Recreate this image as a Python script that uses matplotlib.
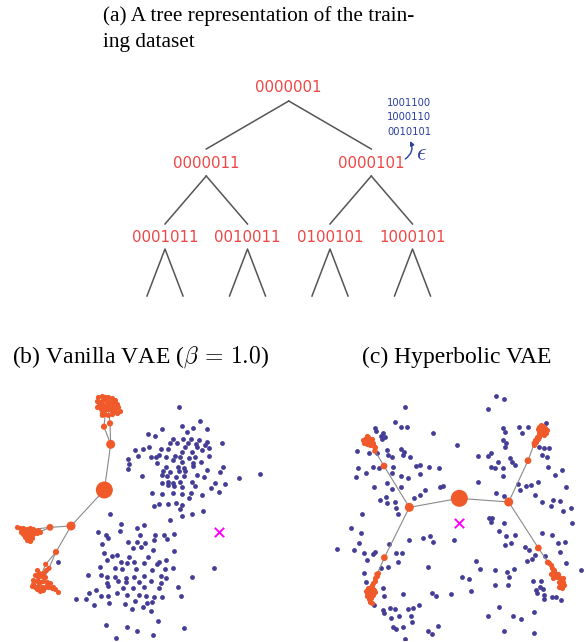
import numpy as np
import matplotlib
matplotlib.use('Agg')
import matplotlib.pyplot as plt

plt.rcParams['mathtext.fontset'] = 'cm'

# ---- (a) tree of binary codes ----
tree_levels = [['0000001'],
               ['0000011', '0000101'],
               ['0001011', '0010011', '0100101', '1000101']]
eps_codes = ['1001100', '1000110', '0010101']

# ---- (b) vanilla VAE latent points ----
b_blue = [(537,202),(600,243),(547,258),(579,265),(622,267),(485,267),(560,275),(444,282),(465,288),
  (519,298),(548,298),(573,296),(596,300),(622,305),(509,308),(530,310),(563,310),(587,312),(614,315),
  (667,308),(447,322),(428,328),(405,330),(483,327),(503,327),(556,322),(590,322),(547,335),(575,335),
  (606,330),(627,325),(413,348),(453,350),(477,345),(497,352),(525,348),(541,350),(568,355),(585,350),
  (627,348),(384,358),(467,352),(519,360),(545,365),(578,370),(604,365),(388,372),(471,370),(497,380),
  (533,380),(551,385),(580,378),(668,382),(383,388),(490,392),(510,395),(537,393),(556,393),(621,390),
  (661,395),(427,407),(485,405),(500,408),(529,410),(553,408),(590,405),(613,410),(716,414),(780,402),
  (504,425),(519,430),(541,425),(575,425),(645,428),(674,432),(485,428),(503,436),(523,438),(546,440),
  (586,438),(633,445),(657,455),(456,460),(486,462),(520,458),(546,462),(572,458),(606,466),(568,475),
  (476,492),(463,497),(503,492),(528,490),(547,495),(541,508),(509,540),(576,522),(608,514),(545,527),
  (331,522),
  (363,553),(431,556),(412,565),(359,572),(293,577),(318,585),(324,593),(421,585),(466,584),(493,585),
  (523,583),(463,600),(502,598),(385,605),(411,606),(436,608),(305,612),(400,625),(424,622),(459,630),
  (523,633),(311,640),(350,645),(335,648),(388,650),(445,650),(476,665),(497,660),(322,660),(362,665),
  (381,670),(402,665),(433,668),(471,672),(301,682),(346,685),(367,688),(409,688),(455,690),(494,688),
  (519,685),(641,685),(263,706),(302,706),(320,712),(344,712),(379,715),(402,712),(432,708),(483,708),
  (497,715),(576,712),(322,728),(353,722),(378,727),(418,727),(452,724),(482,730),(325,738),(370,744),
  (399,745),(433,740),(476,745),(534,740),(289,749),(268,760),(303,768),(323,767),(352,760),(382,765),
  (417,765),(437,768),(462,770),(485,772),(543,768),(228,776),(258,776),(283,795),(327,790),(375,792),
  (404,784),(442,788),(457,785),(395,808),(428,802),(454,812),(475,842),(319,856),(381,862),(410,873),
  (459,884),(552,863),(347,893),(173,666)]
b_leaves = [(295,170),(305,168),(315,172),(325,170),(335,175),(345,180),(292,182),(300,185),(310,180),
  (320,183),(330,185),(340,188),(350,192),(355,200),(298,195),(308,195),(318,195),(328,198),(338,200),
  (348,205),(360,212),(302,208),(312,206),(322,208),(332,210),(342,214),(305,218),(315,222),(325,225),
  (335,222),(350,218),(290,200),
  (52,562),(60,565),(70,563),(80,568),(90,565),(100,568),(65,572),(75,575),(85,575),(95,575),(105,572),
  (115,570),(70,582),(80,585),(90,585),(100,582),(110,580),(75,592),(85,595),(95,593),(80,600),(90,603),
  (120,575),(62,577),
  (110,690),(118,700),(105,705),(115,712),(125,708),(135,712),(100,720),(110,722),(120,725),(130,722),
  (140,725),(150,730),(95,738),(105,740),(115,738),(125,742),(135,740),(145,742),(155,745),(165,748),
  (175,755),(110,748),(120,752),(130,750),(100,732),(140,735),(160,742),(128,698),(138,690)]
b_nodes = [(313,450),(332,313),(312,260),(330,250),(307,226),(213,558),(150,562),(168,636),(147,685),(137,673)]
b_node_size = [150, 42, 20, 20, 14, 42, 24, 20, 14, 14]
b_edges = [((313,450),(332,313)),((332,313),(312,260)),((332,313),(330,250)),((312,260),(318,200)),
  ((330,250),(325,205)),((313,450),(213,558)),((213,558),(150,562)),((150,562),(100,568)),
  ((150,562),(110,580)),((213,558),(168,636)),((168,636),(147,685)),((168,636),(137,673)),
  ((147,685),(125,730)),((137,673),(115,725))]
b_root = (658,575)

# ---- (c) hyperbolic VAE latent points ----
c_blue = [(600,167),(623,178),(575,208),(328,200),(296,245),(315,260),(332,262),(238,265),(240,272),
  (262,278),(254,288),(268,290),(258,298),(412,280),(668,260),(697,260),(751,250),(620,265),(627,275),
  (677,278),(622,300),(630,308),(628,320),(483,315),(226,310),(183,334),(220,338),(243,340),(272,330),
  (277,345),(315,328),(325,335),(322,345),(341,352),(288,350),(745,325),(730,322),(760,323),(738,345),
  (753,352),(585,340),(577,348),(547,347),(643,353),(648,365),(658,375),(606,365),(250,385),(231,380),
  (185,385),(210,400),(181,410),(292,382),(360,378),(373,375),(398,380),(428,385),(372,402),(289,398),
  (314,407),(337,415),(586,380),(598,385),(621,385),(756,382),(798,389),(778,405),(272,430),(315,440),
  (288,447),(233,442),(387,449),(432,441),(440,437),(545,427),(620,408),(665,432),(690,438),(705,435),
  (725,425),(673,450),(810,440),(716,465),(770,480),(765,497),(738,487),(792,482),(270,470),(274,488),
  (297,485),(300,505),(252,480),(355,475),(372,465),(307,523),(600,458),(624,468),(800,512),(825,505),
  (579,533),(588,533),(584,545),(624,548),(828,550),(198,522),(164,565),(196,580),(122,628),(175,630),
  (190,608),(237,637),(231,641),(204,640),(213,660),(280,612),(300,640),(318,640),(340,600),(380,594),
  (403,588),(410,606),(475,600),(610,572),(629,588),(658,585),(628,614),(645,608),(737,580),(768,585),
  (785,610),(807,605),(687,622),(700,630),(792,635),(718,645),(747,648),(693,662),(708,658),(810,668),
  (855,690),(277,680),(255,685),(305,665),(395,682),(539,664),(552,688),(596,690),(634,697),(653,687),
  (639,710),(712,724),(735,722),(732,740),(740,746),(720,750),(723,760),(745,765),(769,772),(780,770),
  (795,780),(744,778),(498,710),(518,716),(525,752),(466,762),(635,735),(598,735),(210,727),(204,700),
  (262,743),(265,768),(320,762),(408,758),(420,768),(233,795),(260,810),(283,805),(297,807),(265,818),
  (352,803),(335,806),(368,795),(309,827),(286,835),(345,828),(347,845),(322,861),(292,862),(300,866),
  (328,898),(396,872),(408,882),(425,858),(577,828),(609,800),(650,828),(676,836),(713,815),(625,872),
  (714,880)]
c_leaves = [(200,300),(207,296),(215,292),(222,296),(210,305),(218,303),(226,305),(232,308),(205,310),
  (214,312),(222,314),(230,316),(236,320),(212,288),(220,300),(228,298),
  (245,700),(242,708),(238,715),(236,722),(232,730),(228,735),(225,740),(215,745),(222,746),(230,746),
  (210,752),(218,752),(226,752),(234,750),(212,760),(220,760),(228,758),(236,756),(214,768),(222,768),
  (230,765),(218,776),(226,775),(222,785),(228,790),
  (735,255),(742,258),(730,262),(738,265),(746,265),(752,270),(725,268),(733,272),(741,274),(749,278),
  (728,280),(736,282),(744,285),(722,290),(730,292),(718,300),(725,298),(716,308),(713,315),(720,305),
  (752,665),(758,670),(764,676),(768,685),(775,690),(770,697),(778,700),(786,702),(765,703),(773,707),
  (782,710),(790,712),(800,715),(795,722),(788,727),(796,730),(792,738),(798,745),(790,742),(802,725),
  (772,715),(804,735)]
c_nodes = [(490,475),(340,502),(638,486),(264,378),(237,333),(265,653),(243,703),(696,362),(715,310),
  (727,624),(756,667)]
c_node_size = [150, 42, 42, 24, 16, 24, 16, 24, 16, 24, 16]
c_edges = [((490,475),(340,502)),((490,475),(638,486)),((340,502),(264,378)),((264,378),(237,333)),
  ((237,333),(215,300)),((340,502),(265,653)),((265,653),(243,703)),((243,703),(225,760)),
  ((638,486),(696,362)),((696,362),(715,310)),((715,310),(737,270)),((638,486),(727,624)),
  ((727,624),(756,667)),((756,667),(785,715))]
c_root = (490,548)

BLUE = '#433d96'
ORANGE = '#f05a2a'
RED = '#ef4646'
NAVY = '#2b3f9e'

fig = plt.figure(figsize=(5.86, 6.42), dpi=100)

# whole-figure axes in pixel units for the tree and the captions
ax = fig.add_axes([0, 0, 1, 1])
ax.set_xlim(0, 586)
ax.set_ylim(642, 0)
ax.axis('off')

serif = 'Liberation Serif'
ax.text(103, 16, '(a) A tree representation of the train-', family=serif, fontsize=15.3, va='center', ha='left')
ax.text(103, 42, 'ing dataset', family=serif, fontsize=15.3, va='center', ha='left')
ax.text(12, 357, r'(b) Vanilla VAE ($\beta\,=\,1.0$)', family=serif, fontsize=17, va='center', ha='left')
ax.text(362, 357, '(c) Hyperbolic VAE', family=serif, fontsize=17, va='center', ha='left')

# tree layout: leaves evenly spaced, parents centred over their children
level_y = [88, 163, 238]
leaf_x0, leaf_dx = 165, 82.5
xs = [[leaf_x0 + i * leaf_dx for i in range(len(tree_levels[2]))]]
for lvl in (1, 0):
  prev = xs[0]
  xs.insert(0, [(prev[2 * i] + prev[2 * i + 1]) / 2 for i in range(len(tree_levels[lvl]))])
lc = '#555555'
for lvl, labels in enumerate(tree_levels):
  for i, lab in enumerate(labels):
    x, y = xs[lvl][i], level_y[lvl]
    ax.text(x, y, lab, color=RED, fontsize=10.8, ha='center', va='center', family='DejaVu Sans')
    if lvl + 1 < len(tree_levels):
      for c in (2 * i, 2 * i + 1):
        ax.plot([x, xs[lvl + 1][c]], [y + 13, level_y[lvl + 1] - 14], color=lc, lw=1.1)
    else:
      ax.plot([x - 18, x, x + 18], [y + 58, y + 11, y + 58], color=lc, lw=1.1)

# epsilon-perturbed codes next to a node
ex, ey = xs[1][1], level_y[1]
for k, code in enumerate(eps_codes):
  ax.text(ex + 38, 103 + 14.5 * k, code, color=NAVY, fontsize=7.2, ha='center', va='center', family='DejaVu Sans')
ax.text(ex + 50, ey - 10, r'$\epsilon$', color=NAVY, fontsize=17, ha='center', va='center')
ax.annotate('', xy=(ex + 39, ey - 22), xytext=(ex + 34, ey - 4),
            arrowprops=dict(arrowstyle='-|>', color=NAVY, lw=1.0, mutation_scale=6,
                            shrinkA=0, shrinkB=0, connectionstyle='arc3,rad=0.4'))

def panel(left, blue, leaves, nodes, sizes, edges, root):
  a = fig.add_axes([left / 586, 2 / 642, 290 / 586, 300 / 642])
  a.set_xlim(0, 870)
  a.set_ylim(900, 0)
  a.axis('off')
  blue = np.array(blue)
  leaves = np.array(leaves)
  nodes = np.array(nodes)
  a.scatter(blue[:, 0], blue[:, 1], s=12, color=BLUE, linewidths=0, zorder=2)
  for p, q in edges:
    a.plot([p[0], q[0]], [p[1], q[1]], color='#8a8a8a', lw=0.8, zorder=3)
  a.scatter(leaves[:, 0], leaves[:, 1], s=14, color=ORANGE, linewidths=0, zorder=4)
  a.scatter(nodes[:, 0], nodes[:, 1], s=sizes, color=ORANGE, linewidths=0, zorder=5)
  a.scatter([root[0]], [root[1]], marker='x', s=45, color='magenta', linewidths=1.4, zorder=6)
  return a

panel(0, b_blue, b_leaves, b_nodes, b_node_size, b_edges, b_root)
panel(296, c_blue, c_leaves, c_nodes, c_node_size, c_edges, c_root)

fig.savefig('out.png', dpi=100)
